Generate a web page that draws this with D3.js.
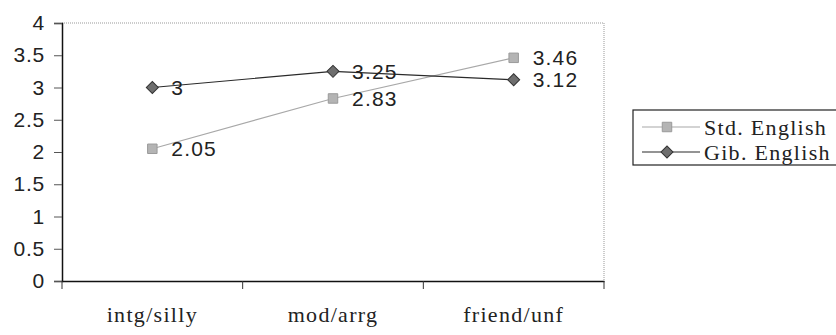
<!DOCTYPE html>
<html>
<head>
<meta charset="utf-8">
<script src="https://cdn.jsdelivr.net/npm/d3@7"></script>
<style>
  body { margin: 0; background: #fff; }
  svg { display: block; }
</style>
</head>
<body>
<svg class="chart" width="836" height="335"></svg>
<script>
const categories = ['intg/silly', 'mod/arrg', 'friend/unf']
const stdEnglish = [2.05, 2.83, 3.46]
const gibEnglish = [3, 3.25, 3.12]
const yTicks = [0, 0.5, 1, 1.5, 2, 2.5, 3, 3.5, 4]

// diamond = square turned 45 degrees
const series = [
  {name: 'Std. English', values: stdEnglish, line: '#a8a8a8', fill: '#b4b4b4', stroke: '#9a9a9a', size: 90, rotate: 0},
  {name: 'Gib. English', values: gibEnglish, line: '#2a2a2a', fill: '#6e6e6e', stroke: '#333', size: 72, rotate: 45},
]

const sans = "Liberation Sans, Arial, sans-serif"
const serif = "Liberation Serif, Times New Roman, serif"

let svg = d3.select("svg.chart")
let plotLeft = 62, plotRight = 604, plotTop = 23, plotBottom = 281

let x = d3.scaleBand().domain(categories).range([plotLeft, plotRight])
let y = d3.scaleLinear().domain([0, 4]).range([plotBottom, plotTop])

// plot area border (top + right dotted)
svg.append("path")
    .attr("d", `M${plotLeft},${plotTop}H${plotRight}V${plotBottom}`)
    .attr("fill", "none")
    .attr("stroke", "#999")
    .attr("stroke-dasharray", "1,1")

let yAxis = svg.append("g")
    .attr("transform", `translate(${plotLeft},0)`)
    .call(d3.axisLeft(y).tickValues(yTicks).tickSize(8).tickPadding(9).tickFormat(d3.format("")))
yAxis.select(".domain").attr("stroke", "#111").attr("stroke-width", 1.5)
yAxis.selectAll(".tick line").attr("stroke", "#555")
yAxis.selectAll("text")
    .attr("font-family", sans)
    .attr("font-size", 21)
    .attr("letter-spacing", 0.8)
    .attr("fill", "#222")

let xAxis = svg.append("g")
    .attr("transform", `translate(0,${plotBottom})`)
    .call(d3.axisBottom(x).tickSize(0).tickPadding(25))
xAxis.select(".domain").attr("stroke", "#111").attr("stroke-width", 1.5)
xAxis.selectAll("text")
    .attr("font-family", serif)
    .attr("font-size", 22)
    .attr("letter-spacing", 1.3)
    .attr("fill", "#222")

// category boundary ticks
svg.append("g")
  .selectAll("line")
  .data(categories.map(c => x(c)).concat([plotRight]))
  .enter().append("line")
    .attr("x1", d => d).attr("x2", d => d)
    .attr("y1", plotBottom).attr("y2", plotBottom + 8)
    .attr("stroke", "#333")

let line = d3.line()
    .x((d, i) => x(categories[i]) + x.bandwidth() / 2)
    .y(d => y(d))

let groups = svg.append("g")
  .selectAll("g")
  .data(series)
  .enter().append("g")

groups.append("path")
    .attr("d", d => line(d.values))
    .attr("fill", "none")
    .attr("stroke", d => d.line)
    .attr("stroke-width", 1.2)

groups.each(function (s) {
  let g = d3.select(this)
  g.selectAll("path.mark")
    .data(s.values)
    .enter().append("path")
      .attr("class", "mark")
      .attr("d", d3.symbol().type(d3.symbolSquare).size(s.size))
      .attr("transform", (d, i) => `translate(${x(categories[i]) + x.bandwidth() / 2},${y(d)}) rotate(${s.rotate})`)
      .attr("fill", s.fill)
      .attr("stroke", s.stroke)
  g.selectAll("text")
    .data(s.values)
    .enter().append("text")
      .attr("x", (d, i) => x(categories[i]) + x.bandwidth() / 2 + 19)
      .attr("y", d => y(d))
      .attr("dy", "0.36em")
      .attr("font-family", sans)
      .attr("font-size", 21)
      .attr("letter-spacing", 1.2)
      .attr("fill", "#222")
      .text(d => d)
})

// legend
let legend = svg.append("g")
legend.append("rect")
    .attr("x", 633).attr("y", 110)
    .attr("width", 210).attr("height", 55)
    .attr("fill", "#fff")
    .attr("stroke", "#222")
    .attr("stroke-width", 1.2)

let items = legend.selectAll("g")
  .data(series)
  .enter().append("g")
    .attr("transform", (d, i) => `translate(0,${127 + i * 25})`)

items.append("line")
    .attr("x1", 642).attr("x2", 700)
    .attr("stroke", d => d.line)
    .attr("stroke-width", 1.2)
items.append("path")
    .attr("d", d => d3.symbol().type(d3.symbolSquare).size(d.size)())
    .attr("transform", d => `translate(667,0) rotate(${d.rotate})`)
    .attr("fill", d => d.fill)
    .attr("stroke", d => d.stroke)
items.append("text")
    .attr("x", 704)
    .attr("dy", "0.35em")
    .attr("font-family", serif)
    .attr("font-size", 22)
    .attr("letter-spacing", 1.3)
    .attr("fill", "#222")
    .text(d => d.name)
</script>
</body>
</html>
